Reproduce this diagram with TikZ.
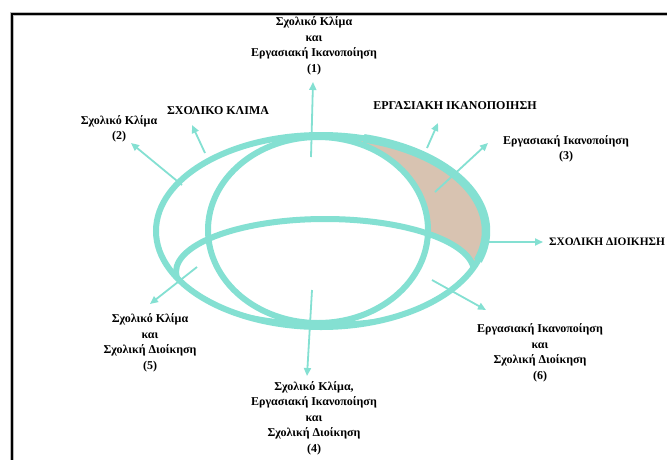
\documentclass[tikz,border=0pt]{standalone}
\usepackage{fontspec}
\setmainfont{Liberation Serif}
\usetikzlibrary{arrows.meta}
\definecolor{ring}{RGB}{132,224,210}
\definecolor{tanfill}{RGB}{216,195,177}
\begin{document}
\begin{tikzpicture}[x=1pt,y=-1pt,
  ringline/.style={draw=ring,line width=6pt},
  pointer/.style={draw=ring,line width=1.8pt,-{Triangle[length=8pt,width=7pt]}},
  lbl/.style={font=\fontsize{12}{15.5}\selectfont\bfseries,align=center,inner sep=0pt},
]
\useasboundingbox (0,0) rectangle (667,459);
\fill[white] (0,0) rectangle (667,459);
% frame
\draw[gray!55,line width=4pt,line join=miter] (11.5,470) -- (11.5,13.5) -- (680,13.5);
\draw[black,line width=2pt,line join=miter] (11.5,470) -- (11.5,13.5) -- (680,13.5);
% shaded region
\begin{scope}
  \clip (318,0) rectangle (667,459);
  \fill[tanfill] (321,231) ellipse[x radius=165,y radius=96];
\end{scope}
\fill[white] (318,230) ellipse[x radius=110,y radius=93];
\fill[white] (325,272) ellipse[x radius=149,y radius=53];
% rings
\draw[ringline] (321,231) ellipse[x radius=165,y radius=96];
\draw[ring,line width=8.5pt] ([shift={(-75:165 and 96)}]321,231) arc[start angle=-75,end angle=18,x radius=165,y radius=96];
\draw[ringline] (318,230) ellipse[x radius=110,y radius=93];
\begin{scope}
  \clip (321,231) ellipse[x radius=166,y radius=97];
  \draw[ringline] (325,272) ellipse[x radius=149,y radius=53];
\end{scope}
% labels
\node[lbl] (t1) at (314,46) {Σχολικό Κλίμα\\και\\Εργασιακή Ικανοποίηση\\(1)};
\node[lbl] (t2) at (119,129) {Σχολικό Κλίμα\\(2)};
\node[lbl] (hk) at (218,111) {ΣΧΟΛΙΚΟ ΚΛΙΜΑ};
\node[lbl] (he) at (455,106) {ΕΡΓΑΣΙΑΚΗ ΙΚΑΝΟΠΟΙΗΣΗ};
\node[lbl] (t3) at (566,149) {Εργασιακή Ικανοποίηση\\(3)};
\node[lbl,anchor=west,font=\fontsize{11.4}{14}\selectfont\bfseries] (hd) at (549,242) {ΣΧΟΛΙΚΗ ΔΙΟΙΚΗΣΗ};
\node[lbl] (t5) at (150,343) {Σχολικό Κλίμα\\και\\Σχολική Διοίκηση\\(5)};
\node[lbl] (t6) at (540,353) {Εργασιακή Ικανοποίηση\\και\\Σχολική Διοίκηση\\(6)};
\node[lbl] (t4) at (314,418) {Σχολικό Κλίμα,\\Εργασιακή Ικανοποίηση\\και\\Σχολική Διοίκηση\\(4)};
% arrow ends
\coordinate (s1) at (311,157); \coordinate (e1) at (313,82);
\coordinate (s2) at (182,185); \coordinate (e2) at (131,143);
\coordinate (sk) at (205,153); \coordinate (ek) at (192,125);
\coordinate (se) at (427,148); \coordinate (ee) at (438,123);
\coordinate (s3) at (435,192); \coordinate (e3) at (488,143);
\coordinate (sd) at (489,242); \coordinate (ed) at (543,242);
\coordinate (s5) at (197,267); \coordinate (e5) at (150,304);
\coordinate (s6) at (432,280); \coordinate (e6) at (486,310);
\coordinate (s4) at (312,290); \coordinate (e4) at (307,376);
\foreach \a/\b in {s1/e1,s2/e2,sk/ek,se/ee,s3/e3,sd/ed,s5/e5,s6/e6,s4/e4}
  \draw[pointer] (\a) -- (\b);
\end{tikzpicture}
\end{document}
